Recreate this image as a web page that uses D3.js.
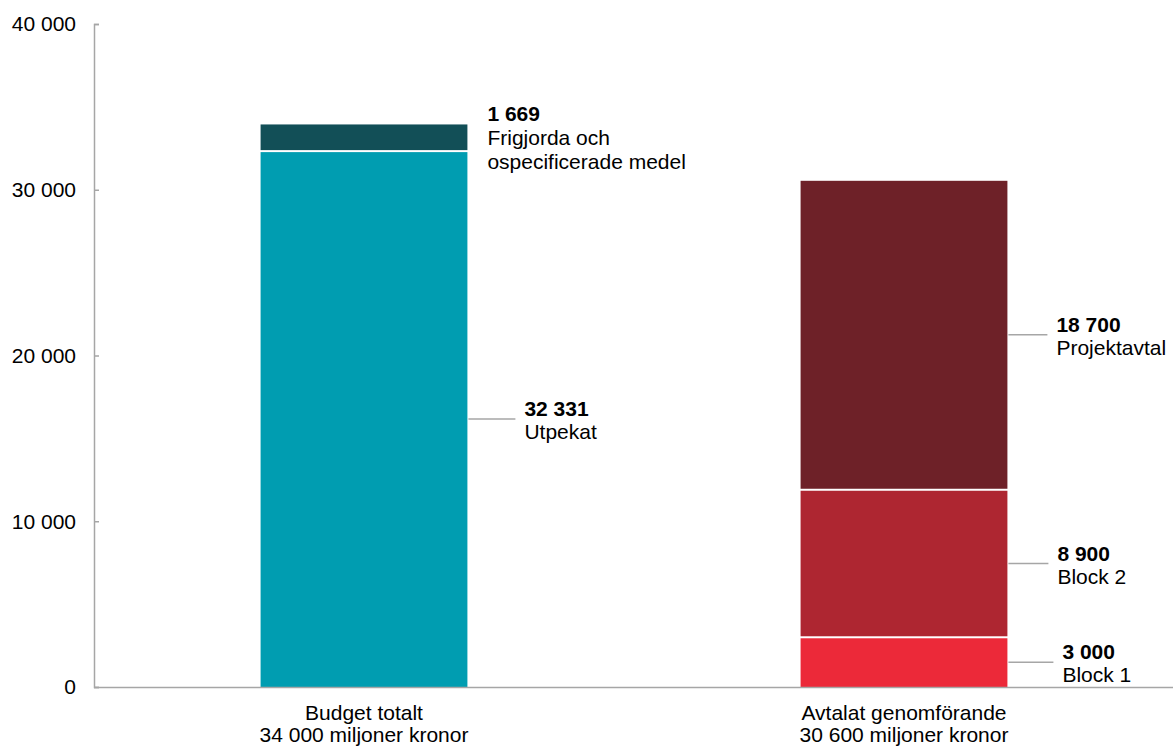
<!DOCTYPE html>
<html lang="sv">
<head>
<meta charset="utf-8">
<script src="https://cdn.jsdelivr.net/npm/d3@7"></script>
<style>
  html, body { margin: 0; padding: 0; background: #fff; }
  svg { display: block; font-family: "Liberation Sans", Arial, sans-serif; }
</style>
</head>
<body>
<svg id="chart" width="1173" height="747"></svg>
<script>
// Categories (bars) and their captions
const categories = ["Budget totalt", "Avtalat genomförande"];
const captions = ["34 000 miljoner kronor", "30 600 miljoner kronor"];

// Stacked segments, bottom to top, per bar
const budgetNames = ["Utpekat", "Frigjorda och|ospecificerade medel"];
const budgetValues = [32331, 1669];
const agreedNames = ["Block 1", "Block 2", "Projektavtal"];
const agreedValues = [3000, 8900, 18700];

const yTicks = [0, 10000, 20000, 30000, 40000];

const colors = {
  "Utpekat": "#009db1",
  "Frigjorda och|ospecificerade medel": "#124f57",
  "Block 1": "#ec2939",
  "Block 2": "#ae2631",
  "Projektavtal": "#6e2128"
};

const svg = d3.select("#chart");
const W = 1173;
const x0 = 94, x1 = W;
const yTop = 24, yBottom = 687;
const FS = 21;

const sv = d3.formatLocale({ decimal: ",", thousands: "\u00a0", grouping: [3], currency: ["", " kr"] });
const fmt = sv.format(",d");

const x = d3.scaleBand().domain(categories).range([x0, x1 + 1]).padding(0);
const barW = x.bandwidth() * 0.383;
const y = d3.scaleLinear().domain([0, 40000]).range([yBottom, yTop]);

// Build stacked segments
const stacks = [
  { cat: categories[0], names: budgetNames, values: budgetValues },
  { cat: categories[1], names: agreedNames, values: agreedValues }
];
const segs = [];
stacks.forEach(s => {
  let acc = 0;
  s.values.forEach((v, i) => {
    segs.push({ cat: s.cat, name: s.names[i], value: v, y0: acc, y1: acc + v, top: i === s.values.length - 1 });
    acc += v;
  });
});

// Y axis with short inward ticks
const axisColor = "#a6a6a6";
const yAxis = d3.axisRight(y).tickValues(yTicks).tickSize(5).tickFormat("");
const gy = svg.append("g").attr("transform", `translate(${x0},0)`).call(yAxis);
gy.select(".domain").attr("stroke", axisColor).attr("stroke-width", 1.5);
gy.selectAll(".tick line").attr("stroke", axisColor).attr("stroke-width", 1.5);

svg.append("g").selectAll("text").data(yTicks).join("text")
  .attr("x", 76).attr("y", d => y(d)).attr("dy", "0.35em")
  .attr("text-anchor", "end").attr("font-size", FS).attr("fill", "#000")
  .text(d => fmt(d));

// Bars (white gap between stacked segments)
svg.append("g").selectAll("rect").data(segs).join("rect")
  .attr("x", d => x(d.cat) + (x.bandwidth() - barW) / 2)
  .attr("width", barW)
  .attr("y", d => y(d.y1) + 1)
  .attr("height", d => y(d.y0) - y(d.y1) - (d.y0 > 0 ? 2 : 1))
  .attr("fill", d => colors[d.name]);

// X baseline
svg.append("line")
  .attr("x1", x0).attr("x2", x1).attr("y1", y(0) + 0.5).attr("y2", y(0) + 0.5)
  .attr("stroke", axisColor).attr("stroke-width", 1.5);

// Category labels
const catG = svg.append("g").selectAll("text").data(categories).join("text")
  .attr("text-anchor", "middle").attr("font-size", FS).attr("fill", "#000");
catG.append("tspan").attr("x", d => x(d) + x.bandwidth() / 2).attr("y", 720).text(d => d);
catG.append("tspan").attr("x", d => x(d) + x.bandwidth() / 2).attr("y", 742).text((d, i) => captions[i]);

// Segment labels with leader lines
const leaderLen = { "Utpekat": 47, "Projektavtal": 39, "Block 2": 40, "Block 1": 45 };
const labelGap = { "Utpekat": 9, "Projektavtal": 9, "Block 2": 9, "Block 1": 9 };
const lg = svg.append("g");
segs.forEach(d => {
  const barRight = x(d.cat) + (x.bandwidth() + barW) / 2;
  const lines = d.name.split("|");
  if (d.top && d.cat === categories[0]) {
    // small top segment: label sits to the right of the bar's top
    const tx = barRight + 20;
    const t = lg.append("text").attr("font-size", FS).attr("fill", "#000");
    t.append("tspan").attr("x", tx).attr("y", y(d.y1) - 2).attr("font-weight", "bold").text(fmt(d.value));
    lines.forEach((l, i) => t.append("tspan").attr("x", tx).attr("y", y(d.y1) + 22 + i * 24).text(l));
    return;
  }
  const my = y((d.y0 + d.y1) / 2);
  const len = leaderLen[d.name];
  lg.append("line")
    .attr("x1", barRight + 1).attr("x2", barRight + 1 + len)
    .attr("y1", my).attr("y2", my)
    .attr("stroke", axisColor).attr("stroke-width", 1.5);
  const tx = barRight + 1 + len + labelGap[d.name];
  const t = lg.append("text").attr("font-size", FS).attr("fill", "#000");
  t.append("tspan").attr("x", tx).attr("y", my - 3).attr("font-weight", "bold").text(fmt(d.value));
  lines.forEach((l, i) => t.append("tspan").attr("x", tx).attr("y", my + 20 + i * 24).text(l));
});
</script>
</body>
</html>
